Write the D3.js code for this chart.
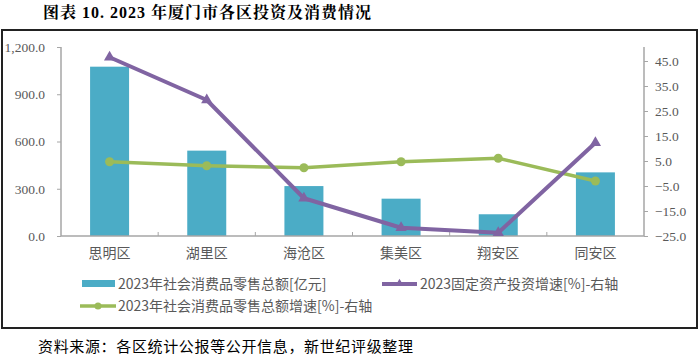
<!DOCTYPE html>
<html><head><meta charset="utf-8">
<script src="https://cdn.jsdelivr.net/npm/d3@7"></script>
<style>body{margin:0;background:#fff}svg{display:block}</style>
</head><body>
<svg id="c" width="700" height="355"></svg>
<script>
const categories = ["思明区","湖里区","海沧区","集美区","翔安区","同安区"];
const retailSales = [1075, 542, 317, 237, 138, 404];
const investGrowth = [46.5, 29.4, -9.9, -21.7, -23.7, 12.3];
const retailGrowth = [4.7, 3.1, 2.3, 4.7, 6.1, -3.0];
const leftTicks = [0, 300, 600, 900, 1200];
const rightTicks = [-25, -15, -5, 5, 15, 25, 35, 45];
const legendLabels = ["2023年社会消费品零售总额[亿元]","2023固定资产投资增速[%]-右轴","2023年社会消费品零售总额增速[%]-右轴"];

const svg = d3.select("#c");
const C = {bar:"#4BACC6", purple:"#8064A2", green:"#9BBB59", axis:"#A6A6A6", text:"#595959"};
const L = 61, R = 644, T = 47, B = 236;

svg.append("text").attr("x",43).attr("y",18)
  .attr("font-family","'Liberation Serif','Noto Serif CJK SC','Noto Sans CJK SC',serif")
  .attr("font-weight","bold").attr("font-size",16).attr("letter-spacing",1).attr("fill","#000")
  .text("图表 10. 2023 年厦门市各区投资及消费情况");

svg.append("rect").attr("x",2).attr("y",30).attr("width",695).attr("height",298)
  .attr("fill","none").attr("stroke","#222").attr("stroke-width",2);

const x = d3.scaleBand().domain(categories).range([L,R]).padding(0);
const yL = d3.scaleLinear().domain([0,1200]).range([B,T]);
const yR = d3.scaleLinear().domain([-25,50.6]).range([B,T]);

// bars
const bw = 39;
svg.append("g").selectAll("rect").data(retailSales).join("rect")
  .attr("x",(d,i)=>x(categories[i])+x.bandwidth()/2-bw/2)
  .attr("y",d=>yL(d)).attr("width",bw).attr("height",d=>B-yL(d))
  .attr("fill",C.bar);

// axes
const axisFont = "'Liberation Serif','Times New Roman',serif";
const gl = svg.append("g").attr("transform",`translate(${L},0)`)
  .call(d3.axisLeft(yL).tickValues(leftTicks).tickSize(4).tickPadding(12).tickFormat(d3.format(",.1f")));
const gr = svg.append("g").attr("transform",`translate(${R},0)`)
  .call(d3.axisRight(yR).tickValues(rightTicks).tickSize(4).tickPadding(7).tickFormat(d3.format(".1f")));
[gl,gr].forEach(g=>{
  g.select(".domain").attr("stroke",C.axis).attr("stroke-width",1.5);
  g.selectAll(".tick line").attr("stroke",C.axis);
  g.selectAll("text").attr("font-family",axisFont).attr("font-size",13.5).attr("fill",C.text);
});
gl.select(".domain").attr("d",`M0,${T}V${B}`);
gr.select(".domain").attr("d",`M0,${T}V${B}`);

const gx = svg.append("g").attr("transform",`translate(0,${B})`);
gx.append("line").attr("x1",L).attr("x2",R).attr("stroke",C.axis).attr("stroke-width",1.5);
gx.selectAll("line.t").data(categories.slice(1)).join("line").attr("class","t")
  .attr("x1",d=>x(d)).attr("x2",d=>x(d)).attr("y1",0).attr("y2",-4).attr("stroke",C.axis);
gx.selectAll("text").data(categories).join("text")
  .attr("x",d=>x(d)+x.bandwidth()/2).attr("y",22).attr("text-anchor","middle")
  .attr("font-family","'Noto Sans CJK SC',sans-serif").attr("font-size",14).attr("fill",C.text)
  .text(d=>d);

const cx = i=>x(categories[i])+x.bandwidth()/2;
const line = d3.line().x((d,i)=>cx(i)).y(d=>yR(d));

// green line
svg.append("path").datum(retailGrowth).attr("d",line).attr("fill","none")
  .attr("stroke",C.green).attr("stroke-width",3.5).attr("stroke-linejoin","round");
svg.append("g").selectAll("circle").data(retailGrowth).join("circle")
  .attr("cx",(d,i)=>cx(i)).attr("cy",d=>yR(d)).attr("r",4.5).attr("fill",C.green);

// purple line
svg.append("path").datum(investGrowth).attr("d",line).attr("fill","none")
  .attr("stroke",C.purple).attr("stroke-width",4).attr("stroke-linejoin","round");
const tri = d3.symbol().type(d3.symbolTriangle).size(55);
svg.append("g").selectAll("path").data(investGrowth).join("path")
  .attr("d",tri).attr("transform",(d,i)=>`translate(${cx(i)},${yR(d)})`).attr("fill",C.purple);

// legend
const lf = "'Noto Sans CJK SC',sans-serif";
const lg = svg.append("g");
lg.append("rect").attr("x",82).attr("y",280).attr("width",33).attr("height",7).attr("fill",C.bar);
lg.append("text").attr("x",118).attr("y",289).text(legendLabels[0]);
lg.append("line").attr("x1",382).attr("x2",417).attr("y1",284).attr("y2",284).attr("stroke",C.purple).attr("stroke-width",4);
lg.append("path").attr("d",d3.symbol().type(d3.symbolTriangle).size(30)).attr("transform","translate(399.5,283.5)").attr("fill",C.purple);
lg.append("text").attr("x",420).attr("y",289).text(legendLabels[1]);
lg.append("line").attr("x1",80).attr("x2",116).attr("y1",306).attr("y2",306).attr("stroke",C.green).attr("stroke-width",3.5);
lg.append("circle").attr("cx",98).attr("cy",306).attr("r",3.5).attr("fill",C.green);
lg.append("text").attr("x",118).attr("y",311).text(legendLabels[2]);
lg.selectAll("text").attr("font-family",lf).attr("font-size",14).attr("fill",C.text);

svg.append("text").attr("x",38).attr("y",352)
  .attr("font-family","'Noto Sans CJK SC',sans-serif").attr("font-size",15).attr("letter-spacing",0.65).attr("fill","#000")
  .text("资料来源：各区统计公报等公开信息，新世纪评级整理");
</script>
</body></html>
